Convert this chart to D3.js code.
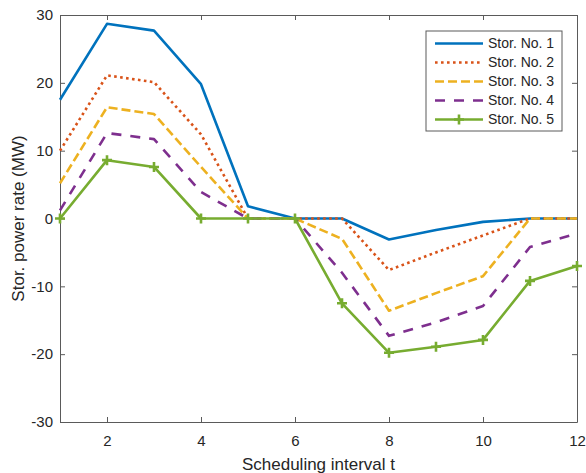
<!DOCTYPE html>
<html>
<head>
<meta charset="utf-8">
<script src="https://cdn.jsdelivr.net/npm/d3@7"></script>
<style>
  body { margin: 0; background: #fff; }
  svg { display: block; font-family: "Liberation Sans", Arial, sans-serif; }
</style>
</head>
<body>
<div id="chart"></div>
<script>
// Chart data
const intervals = [1, 2, 3, 4, 5, 6, 7, 8, 9, 10, 11, 12];
const stor1 = [17.5, 28.7, 27.7, 19.8, 1.8, 0, 0, -3.1, -1.7, -0.5, 0, 0];
const stor2 = [10, 21.1, 20.1, 12.4, 0, 0, 0, -7.6, -5.0, -2.5, 0, 0];
const stor3 = [5.2, 16.4, 15.4, 7.6, 0, 0, -3.0, -13.6, -11.0, -8.5, 0, 0];
const stor4 = [1.2, 12.6, 11.7, 3.9, 0, 0, -8.0, -17.3, -15.3, -12.9, -4.2, -2.2];
const stor5 = [0, 8.6, 7.6, 0, 0, 0, -12.5, -19.8, -18.9, -17.9, -9.2, -7.0];
const seriesNames = ['Stor. No. 1', 'Stor. No. 2', 'Stor. No. 3', 'Stor. No. 4', 'Stor. No. 5'];
const xTicks = [2, 4, 6, 8, 10, 12];
const yTicks = [-30, -20, -10, 0, 10, 20, 30];

const series = [
  { name: seriesNames[0], values: stor1, color: '#0072BD', dash: null, marker: false },
  { name: seriesNames[1], values: stor2, color: '#D95319', dash: '2.6,3.4', marker: false },
  { name: seriesNames[2], values: stor3, color: '#EDB120', dash: '9,4', marker: false },
  { name: seriesNames[3], values: stor4, color: '#7E2F8E', dash: '10,9', marker: false },
  { name: seriesNames[4], values: stor5, color: '#77AC30', dash: null, marker: true }
];

const width = 586;
const height = 473;
const margin = { top: 15, right: 9, bottom: 51, left: 60 };
const axisColor = '#5a5a5a';
const textColor = '#262626';
const plain = d => String(d); // hyphen minus, like the original

const svg = d3.select('#chart')
  .append('svg')
  .attr('width', width)
  .attr('height', height);

const x = d3.scaleLinear().domain([1, 12]).range([margin.left, width - margin.right]);
const y = d3.scaleLinear().domain([-30, 30]).range([height - margin.bottom, margin.top]);

// Box with inward ticks on all sides
const tickLen = 5;
const axes = svg.append('g');

axes.append('g')
  .attr('transform', `translate(0,${height - margin.bottom})`)
  .call(d3.axisBottom(x).tickValues(xTicks).tickFormat(plain).tickSizeInner(-tickLen).tickSizeOuter(0).tickPadding(13))
  .call(g => g.selectAll('text').attr('font-size', 15).attr('fill', textColor));

axes.append('g')
  .attr('transform', `translate(0,${margin.top})`)
  .call(d3.axisTop(x).tickValues(xTicks).tickSizeInner(-tickLen).tickSizeOuter(0).tickFormat(''));

axes.append('g')
  .attr('transform', `translate(${margin.left},0)`)
  .call(d3.axisLeft(y).tickValues(yTicks).tickFormat(plain).tickSizeInner(-tickLen).tickSizeOuter(0).tickPadding(7))
  .call(g => g.selectAll('text').attr('font-size', 15).attr('fill', textColor));

axes.append('g')
  .attr('transform', `translate(${width - margin.right},0)`)
  .call(d3.axisRight(y).tickValues(yTicks).tickSizeInner(-tickLen).tickSizeOuter(0).tickFormat(''));

axes.selectAll('.domain, .tick line').attr('stroke', axisColor).attr('stroke-width', 1);

// Lines
const line = d3.line()
  .x((d, i) => x(intervals[i]))
  .y(d => y(d));

const lines = svg.append('g');
series.forEach(s => {
  lines.append('path')
    .datum(s.values)
    .attr('fill', 'none')
    .attr('stroke', s.color)
    .attr('stroke-width', 2.6)
    .attr('stroke-dasharray', s.dash)
    .attr('stroke-linejoin', 'round')
    .attr('d', line);

  if (s.marker) {
    lines.selectAll(null)
      .data(s.values)
      .enter()
      .append('path')
      .attr('transform', (d, i) => `translate(${x(intervals[i])},${y(d)})`)
      .attr('d', 'M-5,0H5M0,-5V5')
      .attr('stroke', s.color)
      .attr('stroke-width', 2.6)
      .attr('fill', 'none');
  }
});

// Axis titles
svg.append('text')
  .attr('x', (margin.left + width - margin.right) / 2)
  .attr('y', 470)
  .attr('text-anchor', 'middle')
  .attr('font-size', 17)
  .attr('fill', textColor)
  .text('Scheduling interval t');

svg.append('text')
  .attr('transform', `translate(23.5,${(margin.top + height - margin.bottom) / 2}) rotate(-90)`)
  .attr('text-anchor', 'middle')
  .attr('font-size', 17)
  .attr('fill', textColor)
  .text('Stor. power rate (MW)');

// Legend
const legend = svg.append('g').attr('transform', 'translate(426,31)');
legend.append('rect')
  .attr('width', 136)
  .attr('height', 100)
  .attr('fill', '#fff')
  .attr('stroke', axisColor)
  .attr('stroke-width', 1);

series.forEach((s, i) => {
  const row = legend.append('g').attr('transform', `translate(0,${12.5 + i * 19})`);
  row.append('line')
    .attr('x1', 9).attr('x2', 57)
    .attr('stroke', s.color)
    .attr('stroke-width', 2.6)
    .attr('stroke-dasharray', s.dash);
  if (s.marker) {
    row.append('path')
      .attr('transform', 'translate(33,0)')
      .attr('d', 'M-5,0H5M0,-5V5')
      .attr('stroke', s.color)
      .attr('stroke-width', 2.6);
  }
  row.append('text')
    .attr('x', 62)
    .attr('dy', '0.35em')
    .attr('font-size', 14)
    .attr('fill', textColor)
    .text(s.name);
});
</script>
</body>
</html>
